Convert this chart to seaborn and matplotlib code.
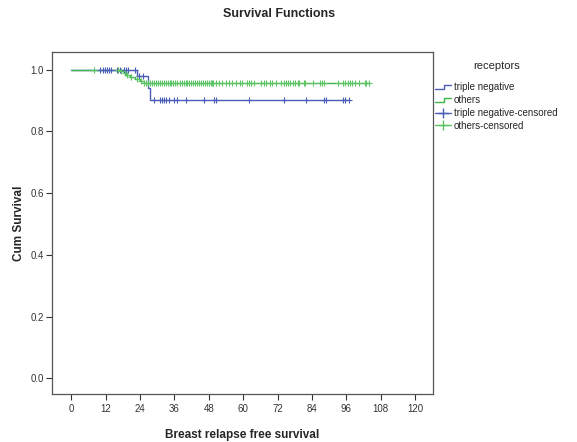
import numpy as np
import pandas as pd
import matplotlib
matplotlib.use('Agg')
import matplotlib.pyplot as plt
from matplotlib.lines import Line2D
from matplotlib.legend_handler import HandlerBase
import seaborn as sns

# step data (time in months, cum survival)
tn_times = [0, 23.0, 26.8, 27.6, 96.8]
tn_surv = [1.0, 0.979, 0.941, 0.903, 0.903]
oth_times = [0, 17.1, 18.3, 19.2, 20.6, 22.4, 24.1, 25.3, 104.0]
oth_surv = [1.0, 0.994, 0.988, 0.981, 0.975, 0.968, 0.962, 0.958, 0.958]

# censored observations
tn_cens = [10.1, 11.0, 11.9, 12.5, 13.3, 14.0, 16.0, 17.1, 18.3, 19.2, 19.8, 22.2,
           23.5, 25.0, 28.8, 31.1, 31.7, 32.3, 32.9, 34.1, 35.8, 37.0, 39.9, 46.3,
           49.8, 50.6, 62.0, 74.3, 81.9, 88.3, 88.9, 94.7, 95.5, 96.8]
oth_cens = [7.8, 16.3, 17.5, 18.6, 19.6, 20.9, 22.8, 24.4,
            25.5, 26.2, 26.9, 27.6, 28.3, 29.0, 29.7, 30.4, 31.1, 31.8, 32.5, 33.2,
            33.9, 34.4, 34.9, 35.6, 36.3, 37.0, 37.8, 38.5, 39.3, 39.9, 40.5, 41.2,
            41.9, 42.6, 43.3, 44.0, 44.7, 45.4, 46.1, 46.8, 47.5, 48.2, 48.6, 49.1,
            49.6, 50.4, 51.5, 52.7, 53.9, 55.0, 56.2, 57.4, 58.9, 59.7, 61.2, 62.0,
            62.6, 63.8, 66.1, 67.1, 67.9, 69.4, 70.2, 71.4, 73.1, 74.3, 74.9, 75.5,
            76.3, 77.2, 78.0, 79.0, 79.5, 81.1, 81.5, 84.2, 86.9, 87.4, 88.1, 93.1,
            94.8, 95.4, 96.4, 97.2, 98.0, 98.9, 100.3, 102.4, 103.0, 103.8]

x_ticks = [0, 12, 24, 36, 48, 60, 72, 84, 96, 108, 120]
y_ticks = [0.0, 0.2, 0.4, 0.6, 0.8, 1.0]

blue = '#4a5db8'
green = '#3cb44a'
green_c = '#5cc465'

def surv_at(times, surv, t):
    i = np.searchsorted(times, t, side='right') - 1
    return np.array(surv)[i]

curves = pd.concat([
    pd.DataFrame({'time': tn_times, 'surv': tn_surv, 'grp': 'triple negative'}),
    pd.DataFrame({'time': oth_times, 'surv': oth_surv, 'grp': 'others'}),
])
cens = pd.concat([
    pd.DataFrame({'time': tn_cens, 'surv': surv_at(tn_times, tn_surv, tn_cens), 'grp': 'triple negative'}),
    pd.DataFrame({'time': oth_cens, 'surv': surv_at(oth_times, oth_surv, oth_cens), 'grp': 'others'}),
])

sns.set_style('white')
plt.rcParams['font.family'] = ['Liberation Sans', 'DejaVu Sans']

fig = plt.figure(figsize=(5.77, 4.42), dpi=100)
ax = fig.add_axes([52/577, 1-394/442, 381/577, 342/442])

for g, c, cc in [('triple negative', blue, blue), ('others', green, green_c)]:
    d = curves[curves.grp == g]
    sns.lineplot(data=d, x='time', y='surv', ax=ax, color=c, lw=1.0,
                 drawstyle='steps-post', estimator=None, sort=False)
    dc = cens[cens.grp == g]
    ax.scatter(dc['time'], dc['surv'], marker='+', s=18, color=cc, linewidths=0.8, zorder=3)

ax.set_xlim(-6.7, 126.2)
ax.set_ylim(-0.051, 1.057)
ax.set_xticks(x_ticks)
ax.set_yticks(y_ticks)
ax.set_xticklabels([str(v) for v in x_ticks])
ax.set_yticklabels(['%.1f' % v for v in y_ticks])
ax.tick_params(axis='both', direction='out', length=4, width=0.8, color='#333333',
               labelsize=7, labelcolor='#333333', pad=2)
ax.tick_params(axis='x', bottom=True, pad=3)
ax.tick_params(axis='y', left=True)
for s in ax.spines.values():
    s.set_color('#555555')
    s.set_linewidth(0.9)

ax.set_xlabel('Breast relapse free survival', fontsize=8.5, fontweight='bold', labelpad=11)
ax.set_ylabel('Cum Survival', fontsize=8.5, fontweight='bold', labelpad=4)
fig.text(0.483, 1-14/442, 'Survival Functions', ha='center', va='center',
         fontsize=9, fontweight='bold')


class StepHandler(HandlerBase):
    def create_artists(self, legend, orig, xd, yd, w, h, fontsize, trans):
        y0 = h / 2 - yd
        xs = [-xd, -xd + w * 0.55, -xd + w * 0.55, -xd + w]
        ys = [y0 - h * 0.3, y0 - h * 0.3, y0 + h * 0.3, y0 + h * 0.3]
        ln = Line2D(xs, ys, color=orig.get_color(), lw=1.0, transform=trans)
        return [ln]


h1 = Line2D([], [], color=blue)
h2 = Line2D([], [], color=green)
h3 = Line2D([], [], color=blue, marker='+', markersize=7, lw=1.0)
h4 = Line2D([], [], color=green_c, marker='+', markersize=7, lw=1.0)
leg = fig.legend([h1, h2, h3, h4],
                 ['triple negative', 'others', 'triple negative-censored', 'others-censored'],
                 handler_map={h1: StepHandler(), h2: StepHandler()},
                 loc='upper left', bbox_to_anchor=(435/577, 1-61/442), frameon=False,
                 title='receptors', fontsize=7, title_fontsize=8, handlelength=1.6,
                 handletextpad=0.35, labelspacing=0.3, borderpad=0, borderaxespad=0)
leg._legend_box.sep = 8

fig.savefig('out.png', dpi=100)
